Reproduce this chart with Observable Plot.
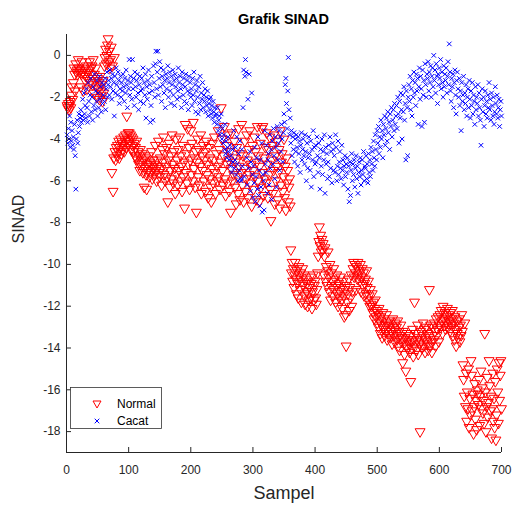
<!DOCTYPE html>
<html><head><meta charset="utf-8">
<script src="https://cdn.jsdelivr.net/npm/d3@7"></script>
<script src="https://cdn.jsdelivr.net/npm/@observablehq/plot@0.6"></script>
<style>
body{margin:0;background:#fff;font-family:"Liberation Sans",Arial,sans-serif;}
#wrap{position:relative;width:529px;height:512px;overflow:hidden;}
#title{height:28px;box-sizing:border-box;padding:12px 28px 0 66px;text-align:center;font-weight:bold;font-size:14.5px;line-height:14.5px;color:#000;}
#legend{position:absolute;left:70px;top:387px;}
</style></head>
<body>
<div id="wrap"><div id="title">Grafik SINAD</div><div id="chart"></div></div>
<script>
// Series values (index = sample number 1..700)
const seriesNames = ["Normal", "Cacat"];
const normal = [
-2.4,-2.5,-2.3,-2.6,-2.4,-2.2,-2.5,-1.9,-1.5,-2.1,
-1.3,-0.6,-0.9,-1.7,-0.4,-0.8,-0.7,-0.9,-0.2,-0.6,
-0.8,-0.7,-1.5,-0.9,-0.3,-0.8,-1.7,-0.6,-0.9,-1.2,
-1.0,-0.5,-1.6,-0.8,-1.1,-0.7,-0.3,-1.3,-0.9,-0.6,
-0.5,-1.4,-0.2,-1.8,-0.9,-1.2,-0.6,-1.5,-2.0,-1.1,
-1.6,-1.3,-2.1,-1.0,-1.7,-1.9,-1.4,-2.2,-1.2,-1.8,
-0.5,-0.1,0.3,-0.4,0.0,0.5,0.8,-0.3,0.2,-0.6,
-0.2,0.4,-5.6,-0.5,-6.5,-4.9,-0.1,-4.6,-5.0,-4.4,
-4.8,-4.3,-4.6,-4.1,-4.9,-4.4,-4.0,-4.7,-4.2,-4.5,
-4.3,-3.9,-4.6,-4.1,-3.8,-4.4,-2.9,-4.0,-3.7,-4.2,
-3.7,-4.1,-3.8,-4.5,-3.9,-4.3,-4.0,-4.6,-4.2,-4.8,
-4.4,-4.9,-4.1,-5.0,-4.6,-5.2,-4.8,-5.5,-4.5,-5.1,
-5.3,-4.7,-5.6,-5.0,-6.3,-5.4,-4.9,-5.7,-6.4,-5.2,
-5.5,-4.8,-5.8,-5.1,-5.6,-5.3,-4.6,-5.9,-5.0,-5.4,
-5.2,-5.7,-4.3,-5.5,-6.0,-5.0,-5.3,-4.1,-5.6,-5.8,
-4.9,-5.4,-6.2,-4.5,-5.1,-3.9,-5.7,-4.7,-6.0,-5.3,
-4.4,-5.8,-7.0,-5.0,-4.2,-6.3,-5.5,-4.8,-5.9,-3.8,
-5.2,-6.1,-4.6,-5.4,-6.6,-4.0,-5.7,-5.0,-6.2,-4.5,
-5.5,-3.9,-6.0,-4.8,-5.3,-6.5,-4.3,-5.8,-5.1,-7.3,
-3.3,-5.6,-4.7,-6.1,-3.5,-5.2,-4.4,-6.4,-5.0,-3.6,
-5.7,-4.2,-6.0,-3.2,-5.4,-4.9,-6.3,-4.6,-7.5,-5.1,
-4.0,-5.8,-4.5,-6.2,-5.3,-3.8,-6.6,-4.8,-5.5,-4.3,
-6.0,-5.0,-4.6,-6.5,-4.1,-5.7,-5.2,-6.8,-4.4,-5.9,
-4.9,-6.3,-7.0,-5.4,-4.2,-6.1,-5.0,-3.9,-5.6,-6.6,
-4.7,-5.3,-6.0,-3.6,-5.8,-4.5,-6.4,-5.1,-2.5,-4.0,
-5.5,-6.2,-4.8,-3.4,-5.9,-6.7,-4.3,-5.2,-6.1,-3.8,
-5.0,-6.5,-4.6,-7.5,-5.4,-3.7,-6.0,-4.9,-5.7,-4.1,
-6.3,-5.1,-7.1,-4.4,-5.8,-6.6,-3.5,-5.3,-6.9,-4.7,
-5.6,-3.3,-6.2,-4.8,-7.0,-5.4,-4.1,-6.5,-5.9,-3.8,
-5.0,-6.8,-4.5,-5.7,-3.6,-6.1,-5.2,-7.2,-4.3,-5.5,
-6.4,-3.9,-5.8,-4.6,-6.9,-5.1,-3.4,-6.0,-4.8,-7.0,
-5.3,-4.2,-6.3,-3.5,-5.6,-3.4,-6.7,-4.9,-5.9,-4.4,
-6.1,-3.7,-5.2,-6.8,-4.5,-5.7,-3.9,-6.4,-7.9,-5.0,
-4.3,-6.6,-5.5,-3.8,-7.1,-4.8,-6.0,-5.3,-4.1,-6.9,
-5.6,-4.5,-7.3,-3.6,-6.2,-5.1,-4.7,-6.5,-5.8,-4.0,
-6.8,-5.3,-7.4,-4.9,-6.1,-5.5,-7.0,-6.3,-5.9,-7.2,
-9.3,-10.4,-9.9,-10.8,-10.2,-11.1,-10.5,-9.9,-10.7,-11.4,
-10.3,-10.9,-11.6,-10.1,-10.6,-11.2,-10.4,-11.8,-10.8,-10.2,
-11.0,-10.5,-11.5,-11.9,-10.7,-11.3,-10.9,-12.0,-11.4,-11.7,
-11.1,-10.6,-11.6,-10.9,-12.1,-11.3,-10.5,-11.7,-11.0,-10.8,
-11.6,-11.9,-11.2,-10.4,-9.6,-8.9,-8.2,-9.1,-8.6,-9.4,
-8.8,-9.3,-9.0,-10.5,-9.6,-9.2,-10.8,-10.1,-11.0,-10.3,
-9.4,-10.6,-11.3,-10.0,-11.7,-10.4,-11.1,-10.8,-11.5,-10.2,
-11.2,-10.7,-11.8,-11.0,-10.5,-11.4,-12.0,-10.9,-11.6,-11.3,
-10.6,-11.1,-11.7,-12.1,-10.8,-11.5,-12.5,-11.2,-12.4,-13.9,
-11.0,-11.8,-11.4,-10.7,-12.2,-11.1,-11.6,-10.5,-12.0,-11.3,
-10.2,-9.9,-10.6,-10.0,-10.4,-11.2,-10.1,-10.7,-9.9,-10.5,
-10.3,-10.8,-10.0,-11.3,-10.6,-10.2,-11.0,-10.4,-11.5,-10.9,
-10.7,-11.4,-10.3,-11.1,-11.7,-10.8,-11.5,-12.0,-11.2,-11.9,
-12.0,-11.4,-12.3,-11.8,-12.6,-12.1,-11.7,-12.5,-12.2,-12.8,
-12.4,-13.0,-12.1,-12.7,-13.3,-12.5,-12.9,-13.5,-12.3,-13.1,
-12.6,-13.4,-12.9,-13.2,-12.4,-13.6,-12.8,-13.0,-13.3,-12.7,
-13.5,-12.9,-13.2,-13.8,-12.6,-13.4,-13.1,-13.7,-12.8,-13.3,
-13.0,-13.6,-12.7,-13.9,-13.2,-14.1,-13.4,-12.9,-13.7,-13.5,
-14.7,-13.2,-13.8,-14.3,-13.5,-15.1,-13.9,-13.3,-14.0,-13.6,
-13.8,-14.2,-13.4,-15.6,-13.7,-14.0,-13.1,-14.4,-13.6,-11.8,
-13.9,-13.3,-14.1,-13.6,-12.9,-14.3,-13.5,-13.8,-18.0,-13.2,
-13.7,-14.0,-13.4,-12.8,-13.9,-13.1,-14.2,-13.6,-13.0,-13.8,
-13.3,-14.1,-13.5,-11.2,-13.9,-12.9,-13.7,-14.2,-13.4,-13.0,
-13.6,-12.8,-13.2,-13.9,-12.6,-13.4,-13.1,-12.5,-13.7,-12.9,
-12.4,-13.0,-12.2,-12.7,-13.3,-12.0,-12.6,-12.9,-12.3,-13.1,
-12.5,-12.8,-12.1,-13.0,-12.4,-12.7,-13.2,-12.3,-12.9,-12.6,
-12.2,-13.4,-12.8,-13.6,-12.5,-13.1,-13.9,-12.7,-13.3,-13.5,
-13.0,-12.6,-13.7,-12.9,-13.4,-12.4,-13.2,-14.8,-15.5,-16.3,
-12.8,-16.8,-15.2,-17.5,-16.1,-16.9,-15.0,-17.8,-16.4,-17.2,
-14.6,-15.3,-17.0,-16.2,-18.1,-16.8,-15.7,-17.4,-16.5,-17.9,
-16.0,-16.2,-16.7,-15.5,-17.7,-16.3,-15.1,-16.9,-15.9,-17.1,
-16.5,-17.6,-13.3,-16.1,-18.0,-16.8,-15.4,-17.3,-16.6,-14.6,
-15.8,-17.0,-16.3,-18.3,-16.9,-15.2,-17.5,-16.4,-17.8,-15.6,
-18.4,-17.2,-15.0,-16.1,-17.6,-14.7,-16.5,-15.3,-14.6,-16.9
];
const cacat = [
-3.8,-4.2,-3.5,-4.0,-2.9,-4.4,-3.2,-4.1,-3.6,-4.3,
-3.9,-4.5,-3.3,-4.8,-6.4,-4.0,-3.1,-4.2,-3.7,-2.8,
-3.4,-3.0,-2.6,-3.2,-2.9,-2.1,-3.1,-1.8,-2.8,-2.4,
-3.0,-1.6,-2.5,-3.2,-1.3,-2.2,-2.9,-1.9,-1.1,-2.7,
-2.0,-3.1,-1.5,-2.4,-0.9,-2.6,-1.7,-2.2,-1.2,-2.9,
-1.8,-2.5,-1.0,-2.1,-1.5,-2.7,-1.3,-2.3,-1.9,-1.4,
-2.2,-1.1,-2.6,-1.6,-0.8,-2.0,-1.4,-1.2,-1.9,-0.7,
-1.5,-1.1,-2.1,-0.9,-1.7,-1.3,-2.9,-1.0,-1.8,-0.6,
-1.4,-1.9,-0.8,-1.2,-2.3,-1.6,-1.0,-2.0,-1.3,-1.7,
-0.9,-1.5,-2.2,-1.1,-1.8,-0.7,-1.4,-2.5,-1.2,-1.6,
-0.2,-1.9,-1.0,-1.3,-2.1,-0.2,-1.6,-1.1,-2.4,-0.8,
-1.5,-2.0,-1.2,-0.9,-1.8,-2.6,-1.4,-1.0,-2.2,-1.7,
-1.1,-1.6,-0.6,-2.3,-1.3,-1.9,-0.9,-3.0,-1.5,-2.1,
-1.2,-0.7,-1.8,-1.4,-3.2,-2.4,-1.0,-1.7,-3.1,-0.5,
-1.3,-2.0,-0.4,0.2,-1.6,-0.8,0.2,-1.9,-1.1,-0.3,
-1.5,-0.6,-2.2,-1.0,-1.4,-0.7,-1.8,-1.2,-2.5,-0.9,
-1.6,-1.1,-0.5,-2.0,-1.3,-0.8,-1.7,-2.3,-1.0,-1.4,
-0.7,-1.9,-1.2,-2.4,-0.9,-1.5,-1.1,-2.1,-1.7,-0.6,
-1.3,-2.0,-1.0,-1.6,-2.5,-0.8,-1.4,-1.9,-1.1,-2.2,
-1.5,-0.9,-2.3,-1.2,-1.7,-2.6,-1.0,-1.8,-1.3,-2.0,
-1.6,-2.4,-1.1,-1.9,-0.8,-2.2,-1.4,-2.7,-1.7,-1.2,
-2.0,-2.8,-1.5,-2.3,-1.0,-2.6,-1.8,-2.1,-1.3,-2.5,
-1.9,-2.2,-1.6,-2.7,-2.0,-2.4,-1.7,-2.9,-2.3,-2.1,
-2.6,-2.0,-2.8,-2.4,-3.0,-2.2,-2.7,-3.2,-2.5,-2.9,
-2.8,-3.3,-2.5,-3.6,-3.1,-2.9,-3.8,-3.4,-2.8,-4.0,
-3.5,-4.2,-3.8,-4.5,-3.3,-4.7,-4.1,-4.9,-4.4,-3.9,
-4.6,-5.0,-4.3,-5.3,-4.8,-5.6,-4.5,-5.1,-3.6,-5.4,
-5.0,-4.4,-5.7,-3.9,-5.2,-6.0,-4.7,-5.5,-4.1,-5.9,
-6.0,-4.5,-5.3,-2.5,-0.7,-5.8,-1.0,-0.2,-0.8,-4.9,
-6.2,-2.1,-5.4,-0.9,-4.6,-6.5,-5.1,-1.8,-5.7,-6.8,
-5.3,-6.1,-4.4,-7.0,-5.8,-4.9,-6.4,-3.9,-6.7,-5.5,
-7.2,-5.0,-6.3,-4.2,-7.5,-5.7,-6.0,-7.4,-3.6,-5.2,
-5.6,-4.3,-6.6,-5.0,-4.7,-6.2,-3.8,-5.4,-4.5,-6.9,
-4.1,-5.2,-3.5,-4.8,-5.9,-3.9,-4.4,-6.3,-3.4,-5.0,
-4.2,-3.6,-5.5,-3.9,-4.6,-3.3,-4.0,-5.1,-3.7,-2.8,
-3.2,-1.4,-1.1,-2.3,-3.5,-1.7,-0.1,-2.6,-3.8,-3.0,
-4.2,-3.6,-4.8,-3.9,-4.5,-3.7,-5.1,-4.0,-4.6,-3.8,
-4.4,-5.3,-3.9,-4.7,-4.1,-5.6,-4.3,-3.7,-5.0,-4.5,
-4.0,-4.8,-5.2,-3.8,-4.6,-6.0,-4.2,-5.4,-4.9,-3.9,
-4.7,-5.5,-4.1,-6.3,-4.5,-5.0,-3.6,-5.8,-4.4,-5.2,
-4.3,-5.1,-3.9,-4.8,-5.6,-4.2,-4.9,-6.4,-4.5,-5.3,
-4.0,-5.7,-4.6,-5.0,-3.8,-6.6,-4.4,-5.2,-4.7,-5.9,
-5.1,-4.3,-5.8,-3.9,-5.4,-4.6,-6.1,-4.2,-4.5,-5.5,
-4.8,-5.6,-3.8,-4.4,-6.0,-5.3,-4.1,-5.7,-5.1,-4.6,
-5.4,-5.9,-4.3,-5.5,-5.0,-6.2,-5.3,-4.8,-5.8,-5.2,
-5.6,-4.9,-6.4,-5.3,-7.0,-5.1,-6.7,-5.5,-4.7,-6.0,
-5.2,-5.7,-5.0,-6.3,-5.4,-4.8,-5.9,-5.3,-6.6,-5.6,
-5.1,-5.8,-4.9,-6.2,-5.5,-5.0,-5.7,-4.6,-6.0,-5.3,
-5.4,-4.8,-5.9,-5.2,-6.1,-4.7,-5.6,-5.0,-5.8,-4.4,
-5.2,-4.6,-5.5,-4.1,-4.9,-5.3,-3.8,-4.5,-5.0,-3.6,
-4.2,-3.4,-4.7,-3.9,-4.4,-3.1,-4.0,-3.6,-4.9,-3.3,
-3.8,-2.9,-4.3,-3.5,-3.0,-4.1,-2.7,-3.7,-3.2,-4.5,
-2.8,-3.4,-2.5,-3.9,-3.1,-2.6,-3.6,-2.3,-3.3,-2.9,
-2.4,-3.5,-2.0,-2.8,-4.2,-2.2,-3.0,-1.8,-2.6,-4.0,
-1.9,-2.7,-1.5,-3.1,-2.3,-5.0,-1.7,-2.5,-4.8,-2.0,
-1.4,-2.2,-1.0,-2.6,-1.6,-2.9,-1.2,-2.0,-0.8,-1.8,
-1.3,-2.4,-0.9,-1.7,-1.1,-3.3,-1.5,-0.6,-2.1,-1.0,
-1.6,-3.4,-0.7,-1.9,-1.2,-3.2,-0.4,-1.4,-2.0,-0.9,
-1.1,-0.3,-1.7,-0.8,-1.3,-0.5,-2.0,-1.0,-0.6,-1.5,
0.0,-1.2,-0.7,-1.8,-0.4,-1.0,-2.3,-0.9,-1.4,-0.6,
-1.1,-0.2,-1.6,-0.8,-1.3,-2.0,-0.5,-1.5,-0.9,-1.2,
-0.6,-1.8,-1.0,-0.3,-1.4,0.55,-0.8,-1.7,-2.2,-1.1,
-1.5,-0.9,-2.5,-1.3,-0.7,-1.9,-2.8,-1.2,-0.8,-1.6,
-2.0,-1.1,-2.4,-1.7,-3.6,-1.3,-2.2,-1.9,-1.0,-2.6,
-1.8,-2.3,-1.4,-2.9,-2.0,-1.6,-2.5,-1.2,-2.1,-3.0,
-1.7,-2.4,-1.3,-2.8,-1.9,-2.2,-3.3,-1.5,-2.6,-2.0,
-2.3,-1.4,-2.9,-1.8,-2.5,-3.1,-4.3,-2.1,-1.6,-2.7,
-2.0,-3.4,-2.4,-1.7,-2.8,-2.2,-3.0,-1.9,-2.5,-1.3,
-2.6,-2.1,-3.1,-1.8,-2.4,-2.9,-2.0,-3.3,-2.7,-1.5,
-2.3,-2.8,-1.9,-3.0,-2.5,-2.1,-3.4,-2.6,-2.2,-2.9
];
// Axis ticks and domains
const xTicks = [0, 100, 200, 300, 400, 500, 600, 700];
const yTicks = [0, -2, -4, -6, -8, -10, -12, -14, -16, -18];
const xDomain = [0, 700];
const yDomain = [-19, 1];
const xLabel = "Sampel";
const yLabel = "SINAD";

const normalData = normal.map((v, i) => ({x: i + 1, y: v}));
const cacatData = cacat.map((v, i) => ({x: i + 1, y: v}));

const W = 529, H = 484, mT = 6, mB = 60, mL = 66, mR = 28;
const innerW = W - mL - mR, innerH = H - mT - mB;
const axisColor = "#262626";

const chart = Plot.plot({
  width: W, height: H,
  marginTop: mT, marginBottom: mB, marginLeft: mL, marginRight: mR,
  style: {fontFamily: "'Liberation Sans', Arial, sans-serif", fontSize: "12px", color: axisColor, background: "#fff", overflow: "visible"},
  x: {domain: xDomain},
  y: {domain: yDomain},
  marks: [
    Plot.dot(normalData, {x: "x", y: "y", symbol: "triangle", r: 3.7, rotate: 180, stroke: "#ff0000", strokeWidth: 1, fill: "none"}),
    Plot.dot(cacatData, {x: "x", y: "y", symbol: "times", r: 2.2, stroke: "#0000ff", strokeWidth: 1}),
    Plot.ruleX([xDomain[0]], {stroke: axisColor}),
    Plot.ruleY([yDomain[0]], {stroke: axisColor}),
    Plot.tickX(xTicks, {x: d => d, insetTop: innerH - 5, stroke: axisColor}),
    Plot.tickY(yTicks, {y: d => d, insetRight: innerW - 5, stroke: axisColor}),
    Plot.axisX({ticks: xTicks, tickSize: 0, tickPadding: 13, label: null, tickFormat: d => String(d)}),
    Plot.axisY({ticks: yTicks, tickSize: 0, tickPadding: 6, label: null, tickFormat: d => String(d)}),
    Plot.text([xLabel], {text: d => d, frameAnchor: "bottom", dy: 46, fontSize: 18, fill: axisColor}),
    Plot.text([yLabel], {text: d => d, frameAnchor: "left", dx: -48, rotate: -90, fontSize: 16, fill: axisColor})
  ]
});
document.getElementById("chart").appendChild(chart);

// Legend (overlay in the lower-left of the axes, as in the reference)
const ns = "http://www.w3.org/2000/svg";
const leg = document.createElementNS(ns, "svg");
leg.setAttribute("id", "legend");
leg.setAttribute("width", 92);
leg.setAttribute("height", 42);
leg.style.position = "absolute";
leg.style.left = "70px";
leg.style.top = "387px";
leg.innerHTML =
  '<rect x="0.5" y="0.5" width="91" height="41" fill="#fff" stroke="#333" stroke-width="0.8"/>' +
  '<path d="M23,14L31,14L27,21Z" fill="none" stroke="#ff0000" stroke-width="1"/>' +
  '<path d="M24.7,31.7L29.3,36.3M24.7,36.3L29.3,31.7" stroke="#0000ff" stroke-width="1"/>' +
  '<text x="47" y="21" font-size="12" fill="#000" font-family="Liberation Sans, Arial, sans-serif">' + seriesNames[0] + '</text>' +
  '<text x="47" y="38" font-size="12" fill="#000" font-family="Liberation Sans, Arial, sans-serif">' + seriesNames[1] + '</text>';
document.getElementById("wrap").appendChild(leg);
</script>
</body></html>
